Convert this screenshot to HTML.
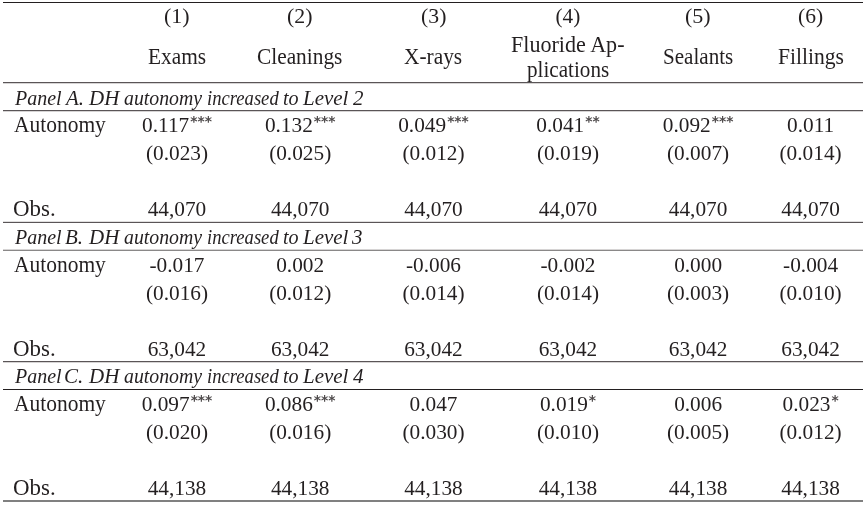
<!DOCTYPE html>
<html><head><meta charset="utf-8"><style>
html,body{margin:0;padding:0;background:#fff;}
body{width:867px;height:506px;position:relative;overflow:hidden;}
.t{position:absolute;white-space:nowrap;font-family:"Liberation Serif",serif;color:#231f20;}
.l{position:absolute;left:3px;width:860px;}
.s{font-family:"DejaVu Sans",sans-serif;font-weight:bold;font-size:13.8px;position:relative;top:-5.6px;letter-spacing:0px;margin-left:1px;color:#4d494a;}
</style></head><body>
<div class="l" style="top:2px;height:1px;background:#231f20"></div>
<div class="l" style="top:82px;height:1px;background:#5a5557"></div>
<div class="l" style="top:83px;height:1px;background:#d6d4d4"></div>
<div class="l" style="top:110px;height:1px;background:#5a5557"></div>
<div class="l" style="top:111px;height:1px;background:#d6d4d4"></div>
<div class="l" style="top:221px;height:1px;background:#e0dfdf"></div>
<div class="l" style="top:222px;height:1px;background:#5a5557"></div>
<div class="l" style="top:249px;height:1px;background:#d6d4d4"></div>
<div class="l" style="top:250px;height:1px;background:#8a8888"></div>
<div class="l" style="top:361px;height:1px;background:#5a5557"></div>
<div class="l" style="top:362px;height:1px;background:#d6d4d4"></div>
<div class="l" style="top:389px;height:1px;background:#231f20"></div>
<div class="l" style="top:500px;height:2px;background:#808080"></div>
<div class="t" style="top:6px;font-size:21.3px;line-height:21.3px;left:164.07px;transform-origin:0 17px;transform:scale(1.0304,0.97);">(1)</div>
<div class="t" style="top:6px;font-size:21.3px;line-height:21.3px;left:287.37px;transform-origin:0 17px;transform:scale(1.0261,0.97);">(2)</div>
<div class="t" style="top:6px;font-size:21.3px;line-height:21.3px;left:420.88px;transform-origin:0 17px;transform:scale(1.0217,0.97);">(3)</div>
<div class="t" style="top:6px;font-size:21.3px;line-height:21.3px;left:555.50px;transform-origin:0 17px;transform:scale(1.0000,0.97);">(4)</div>
<div class="t" style="top:6px;font-size:21.3px;line-height:21.3px;left:685.27px;transform-origin:0 17px;transform:scale(1.0348,0.97);">(5)</div>
<div class="t" style="top:6px;font-size:21.3px;line-height:21.3px;left:797.89px;transform-origin:0 17px;transform:scale(1.0130,0.97);">(6)</div>
<div class="t" style="top:47px;font-size:21.3px;line-height:21.3px;left:147.90px;transform-origin:0 17px;transform:scale(1.0018,1.05);">Exams</div>
<div class="t" style="top:47px;font-size:21.3px;line-height:21.3px;left:257.10px;transform-origin:0 17px;transform:scale(1.0024,1.05);">Cleanings</div>
<div class="t" style="top:47px;font-size:21.3px;line-height:21.3px;left:404.30px;transform-origin:0 17px;transform:scale(1.0036,1.05);">X-rays</div>
<div class="t" style="top:35px;font-size:21.3px;line-height:21.3px;left:510.86px;transform-origin:0 17px;transform:scale(1.0370,1.05);">Fluoride Ap-</div>
<div class="t" style="top:60px;font-size:21.3px;line-height:21.3px;left:527.01px;transform-origin:0 17px;transform:scale(0.9926,1.05);">plications</div>
<div class="t" style="top:47px;font-size:21.3px;line-height:21.3px;left:662.81px;transform-origin:0 17px;transform:scale(0.9899,1.05);">Sealants</div>
<div class="t" style="top:47px;font-size:21.3px;line-height:21.3px;left:777.89px;transform-origin:0 17px;transform:scale(1.0127,1.05);">Fillings</div>
<div class="t" style="top:89px;font-size:19.8px;line-height:19.8px;font-style:italic;left:14.50px;transform-origin:0 16px;transform:scale(1.0087,1.05);">Panel</div>
<div class="t" style="top:89px;font-size:19.8px;line-height:19.8px;font-style:italic;left:65.93px;transform-origin:0 16px;transform:scale(1.0600,1.05);">A.</div>
<div class="t" style="top:89px;font-size:19.8px;line-height:19.8px;font-style:italic;left:88.73px;transform-origin:0 16px;transform:scale(1.0600,1.05);">DH</div>
<div class="t" style="top:89px;font-size:19.8px;line-height:19.8px;font-style:italic;left:124.00px;transform-origin:0 16px;transform:scale(1.0013,1.05);">autonomy</div>
<div class="t" style="top:89px;font-size:19.8px;line-height:19.8px;font-style:italic;left:207.46px;transform-origin:0 16px;transform:scale(0.9413,1.05);">increased</div>
<div class="t" style="top:89px;font-size:19.8px;line-height:19.8px;font-style:italic;left:282.59px;transform-origin:0 16px;transform:scale(1.0143,1.05);">to</div>
<div class="t" style="top:89px;font-size:19.8px;line-height:19.8px;font-style:italic;left:303.39px;transform-origin:0 16px;transform:scale(1.0600,1.05);">Level</div>
<div class="t" style="top:89px;font-size:19.8px;line-height:19.8px;font-style:italic;left:352.58px;transform-origin:0 16px;transform:scale(1.0600,1.05);">2</div>
<div class="t" style="top:115px;font-size:21.3px;line-height:21.3px;left:13.60px;transform-origin:0 17px;transform:scale(1.0077,1.05);">Autonomy</div>
<div class="t" style="top:199px;font-size:21.3px;line-height:21.3px;left:13.22px;transform-origin:0 17px;transform:scale(1.0757,1.05);">Obs.</div>
<div class="t" style="top:115px;font-size:21.3px;line-height:21.3px;left:27.00px;width:300px;text-align:center;transform-origin:50% 17px;transform:scaleY(1.0);">0.117<span class="s">***</span></div>
<div class="t" style="top:143px;font-size:21.3px;line-height:21.3px;left:27.00px;width:300px;text-align:center;transform-origin:50% 17px;transform:scaleY(1.0);">(0.023)</div>
<div class="t" style="top:199px;font-size:21.3px;line-height:21.3px;left:27.00px;width:300px;text-align:center;transform-origin:50% 17px;transform:scaleY(1.0);">44,070</div>
<div class="t" style="top:115px;font-size:21.3px;line-height:21.3px;left:150.20px;width:300px;text-align:center;transform-origin:50% 17px;transform:scaleY(1.0);">0.132<span class="s">***</span></div>
<div class="t" style="top:143px;font-size:21.3px;line-height:21.3px;left:150.20px;width:300px;text-align:center;transform-origin:50% 17px;transform:scaleY(1.0);">(0.025)</div>
<div class="t" style="top:199px;font-size:21.3px;line-height:21.3px;left:150.20px;width:300px;text-align:center;transform-origin:50% 17px;transform:scaleY(1.0);">44,070</div>
<div class="t" style="top:115px;font-size:21.3px;line-height:21.3px;left:283.50px;width:300px;text-align:center;transform-origin:50% 17px;transform:scaleY(1.0);">0.049<span class="s">***</span></div>
<div class="t" style="top:143px;font-size:21.3px;line-height:21.3px;left:283.50px;width:300px;text-align:center;transform-origin:50% 17px;transform:scaleY(1.0);">(0.012)</div>
<div class="t" style="top:199px;font-size:21.3px;line-height:21.3px;left:283.50px;width:300px;text-align:center;transform-origin:50% 17px;transform:scaleY(1.0);">44,070</div>
<div class="t" style="top:115px;font-size:21.3px;line-height:21.3px;left:418.00px;width:300px;text-align:center;transform-origin:50% 17px;transform:scaleY(1.0);">0.041<span class="s">**</span></div>
<div class="t" style="top:143px;font-size:21.3px;line-height:21.3px;left:418.00px;width:300px;text-align:center;transform-origin:50% 17px;transform:scaleY(1.0);">(0.019)</div>
<div class="t" style="top:199px;font-size:21.3px;line-height:21.3px;left:418.00px;width:300px;text-align:center;transform-origin:50% 17px;transform:scaleY(1.0);">44,070</div>
<div class="t" style="top:115px;font-size:21.3px;line-height:21.3px;left:548.10px;width:300px;text-align:center;transform-origin:50% 17px;transform:scaleY(1.0);">0.092<span class="s">***</span></div>
<div class="t" style="top:143px;font-size:21.3px;line-height:21.3px;left:548.10px;width:300px;text-align:center;transform-origin:50% 17px;transform:scaleY(1.0);">(0.007)</div>
<div class="t" style="top:199px;font-size:21.3px;line-height:21.3px;left:548.10px;width:300px;text-align:center;transform-origin:50% 17px;transform:scaleY(1.0);">44,070</div>
<div class="t" style="top:115px;font-size:21.3px;line-height:21.3px;left:660.60px;width:300px;text-align:center;transform-origin:50% 17px;transform:scaleY(1.0);">0.011</div>
<div class="t" style="top:143px;font-size:21.3px;line-height:21.3px;left:660.60px;width:300px;text-align:center;transform-origin:50% 17px;transform:scaleY(1.0);">(0.014)</div>
<div class="t" style="top:199px;font-size:21.3px;line-height:21.3px;left:660.60px;width:300px;text-align:center;transform-origin:50% 17px;transform:scaleY(1.0);">44,070</div>
<div class="t" style="top:228px;font-size:19.8px;line-height:19.8px;font-style:italic;left:14.50px;transform-origin:0 16px;transform:scale(1.0087,1.05);">Panel</div>
<div class="t" style="top:228px;font-size:19.8px;line-height:19.8px;font-style:italic;left:64.87px;transform-origin:0 16px;transform:scale(1.0600,1.05);">B.</div>
<div class="t" style="top:228px;font-size:19.8px;line-height:19.8px;font-style:italic;left:88.73px;transform-origin:0 16px;transform:scale(1.0600,1.05);">DH</div>
<div class="t" style="top:228px;font-size:19.8px;line-height:19.8px;font-style:italic;left:124.00px;transform-origin:0 16px;transform:scale(1.0013,1.05);">autonomy</div>
<div class="t" style="top:228px;font-size:19.8px;line-height:19.8px;font-style:italic;left:207.46px;transform-origin:0 16px;transform:scale(0.9413,1.05);">increased</div>
<div class="t" style="top:228px;font-size:19.8px;line-height:19.8px;font-style:italic;left:282.59px;transform-origin:0 16px;transform:scale(1.0143,1.05);">to</div>
<div class="t" style="top:228px;font-size:19.8px;line-height:19.8px;font-style:italic;left:303.39px;transform-origin:0 16px;transform:scale(1.0600,1.05);">Level</div>
<div class="t" style="top:228px;font-size:19.8px;line-height:19.8px;font-style:italic;left:352.43px;transform-origin:0 16px;transform:scale(1.0600,1.05);">3</div>
<div class="t" style="top:255px;font-size:21.3px;line-height:21.3px;left:13.60px;transform-origin:0 17px;transform:scale(1.0077,1.05);">Autonomy</div>
<div class="t" style="top:339px;font-size:21.3px;line-height:21.3px;left:13.22px;transform-origin:0 17px;transform:scale(1.0757,1.05);">Obs.</div>
<div class="t" style="top:255px;font-size:21.3px;line-height:21.3px;left:27.00px;width:300px;text-align:center;transform-origin:50% 17px;transform:scaleY(1.0);">-0.017</div>
<div class="t" style="top:283px;font-size:21.3px;line-height:21.3px;left:27.00px;width:300px;text-align:center;transform-origin:50% 17px;transform:scaleY(1.0);">(0.016)</div>
<div class="t" style="top:339px;font-size:21.3px;line-height:21.3px;left:27.00px;width:300px;text-align:center;transform-origin:50% 17px;transform:scaleY(1.0);">63,042</div>
<div class="t" style="top:255px;font-size:21.3px;line-height:21.3px;left:150.20px;width:300px;text-align:center;transform-origin:50% 17px;transform:scaleY(1.0);">0.002</div>
<div class="t" style="top:283px;font-size:21.3px;line-height:21.3px;left:150.20px;width:300px;text-align:center;transform-origin:50% 17px;transform:scaleY(1.0);">(0.012)</div>
<div class="t" style="top:339px;font-size:21.3px;line-height:21.3px;left:150.20px;width:300px;text-align:center;transform-origin:50% 17px;transform:scaleY(1.0);">63,042</div>
<div class="t" style="top:255px;font-size:21.3px;line-height:21.3px;left:283.50px;width:300px;text-align:center;transform-origin:50% 17px;transform:scaleY(1.0);">-0.006</div>
<div class="t" style="top:283px;font-size:21.3px;line-height:21.3px;left:283.50px;width:300px;text-align:center;transform-origin:50% 17px;transform:scaleY(1.0);">(0.014)</div>
<div class="t" style="top:339px;font-size:21.3px;line-height:21.3px;left:283.50px;width:300px;text-align:center;transform-origin:50% 17px;transform:scaleY(1.0);">63,042</div>
<div class="t" style="top:255px;font-size:21.3px;line-height:21.3px;left:418.00px;width:300px;text-align:center;transform-origin:50% 17px;transform:scaleY(1.0);">-0.002</div>
<div class="t" style="top:283px;font-size:21.3px;line-height:21.3px;left:418.00px;width:300px;text-align:center;transform-origin:50% 17px;transform:scaleY(1.0);">(0.014)</div>
<div class="t" style="top:339px;font-size:21.3px;line-height:21.3px;left:418.00px;width:300px;text-align:center;transform-origin:50% 17px;transform:scaleY(1.0);">63,042</div>
<div class="t" style="top:255px;font-size:21.3px;line-height:21.3px;left:548.10px;width:300px;text-align:center;transform-origin:50% 17px;transform:scaleY(1.0);">0.000</div>
<div class="t" style="top:283px;font-size:21.3px;line-height:21.3px;left:548.10px;width:300px;text-align:center;transform-origin:50% 17px;transform:scaleY(1.0);">(0.003)</div>
<div class="t" style="top:339px;font-size:21.3px;line-height:21.3px;left:548.10px;width:300px;text-align:center;transform-origin:50% 17px;transform:scaleY(1.0);">63,042</div>
<div class="t" style="top:255px;font-size:21.3px;line-height:21.3px;left:660.60px;width:300px;text-align:center;transform-origin:50% 17px;transform:scaleY(1.0);">-0.004</div>
<div class="t" style="top:283px;font-size:21.3px;line-height:21.3px;left:660.60px;width:300px;text-align:center;transform-origin:50% 17px;transform:scaleY(1.0);">(0.010)</div>
<div class="t" style="top:339px;font-size:21.3px;line-height:21.3px;left:660.60px;width:300px;text-align:center;transform-origin:50% 17px;transform:scaleY(1.0);">63,042</div>
<div class="t" style="top:367px;font-size:19.8px;line-height:19.8px;font-style:italic;left:14.50px;transform-origin:0 16px;transform:scale(1.0087,1.05);">Panel</div>
<div class="t" style="top:367px;font-size:19.8px;line-height:19.8px;font-style:italic;left:64.34px;transform-origin:0 16px;transform:scale(1.0600,1.05);">C.</div>
<div class="t" style="top:367px;font-size:19.8px;line-height:19.8px;font-style:italic;left:88.73px;transform-origin:0 16px;transform:scale(1.0600,1.05);">DH</div>
<div class="t" style="top:367px;font-size:19.8px;line-height:19.8px;font-style:italic;left:124.00px;transform-origin:0 16px;transform:scale(1.0013,1.05);">autonomy</div>
<div class="t" style="top:367px;font-size:19.8px;line-height:19.8px;font-style:italic;left:207.46px;transform-origin:0 16px;transform:scale(0.9413,1.05);">increased</div>
<div class="t" style="top:367px;font-size:19.8px;line-height:19.8px;font-style:italic;left:282.59px;transform-origin:0 16px;transform:scale(1.0143,1.05);">to</div>
<div class="t" style="top:367px;font-size:19.8px;line-height:19.8px;font-style:italic;left:303.39px;transform-origin:0 16px;transform:scale(1.0600,1.05);">Level</div>
<div class="t" style="top:367px;font-size:19.8px;line-height:19.8px;font-style:italic;left:353.48px;transform-origin:0 16px;transform:scale(1.0600,1.05);">4</div>
<div class="t" style="top:394px;font-size:21.3px;line-height:21.3px;left:13.60px;transform-origin:0 17px;transform:scale(1.0077,1.05);">Autonomy</div>
<div class="t" style="top:478px;font-size:21.3px;line-height:21.3px;left:13.22px;transform-origin:0 17px;transform:scale(1.0757,1.05);">Obs.</div>
<div class="t" style="top:394px;font-size:21.3px;line-height:21.3px;left:27.00px;width:300px;text-align:center;transform-origin:50% 17px;transform:scaleY(1.0);">0.097<span class="s">***</span></div>
<div class="t" style="top:422px;font-size:21.3px;line-height:21.3px;left:27.00px;width:300px;text-align:center;transform-origin:50% 17px;transform:scaleY(1.0);">(0.020)</div>
<div class="t" style="top:478px;font-size:21.3px;line-height:21.3px;left:27.00px;width:300px;text-align:center;transform-origin:50% 17px;transform:scaleY(1.0);">44,138</div>
<div class="t" style="top:394px;font-size:21.3px;line-height:21.3px;left:150.20px;width:300px;text-align:center;transform-origin:50% 17px;transform:scaleY(1.0);">0.086<span class="s">***</span></div>
<div class="t" style="top:422px;font-size:21.3px;line-height:21.3px;left:150.20px;width:300px;text-align:center;transform-origin:50% 17px;transform:scaleY(1.0);">(0.016)</div>
<div class="t" style="top:478px;font-size:21.3px;line-height:21.3px;left:150.20px;width:300px;text-align:center;transform-origin:50% 17px;transform:scaleY(1.0);">44,138</div>
<div class="t" style="top:394px;font-size:21.3px;line-height:21.3px;left:283.50px;width:300px;text-align:center;transform-origin:50% 17px;transform:scaleY(1.0);">0.047</div>
<div class="t" style="top:422px;font-size:21.3px;line-height:21.3px;left:283.50px;width:300px;text-align:center;transform-origin:50% 17px;transform:scaleY(1.0);">(0.030)</div>
<div class="t" style="top:478px;font-size:21.3px;line-height:21.3px;left:283.50px;width:300px;text-align:center;transform-origin:50% 17px;transform:scaleY(1.0);">44,138</div>
<div class="t" style="top:394px;font-size:21.3px;line-height:21.3px;left:418.00px;width:300px;text-align:center;transform-origin:50% 17px;transform:scaleY(1.0);">0.019<span class="s">*</span></div>
<div class="t" style="top:422px;font-size:21.3px;line-height:21.3px;left:418.00px;width:300px;text-align:center;transform-origin:50% 17px;transform:scaleY(1.0);">(0.010)</div>
<div class="t" style="top:478px;font-size:21.3px;line-height:21.3px;left:418.00px;width:300px;text-align:center;transform-origin:50% 17px;transform:scaleY(1.0);">44,138</div>
<div class="t" style="top:394px;font-size:21.3px;line-height:21.3px;left:548.10px;width:300px;text-align:center;transform-origin:50% 17px;transform:scaleY(1.0);">0.006</div>
<div class="t" style="top:422px;font-size:21.3px;line-height:21.3px;left:548.10px;width:300px;text-align:center;transform-origin:50% 17px;transform:scaleY(1.0);">(0.005)</div>
<div class="t" style="top:478px;font-size:21.3px;line-height:21.3px;left:548.10px;width:300px;text-align:center;transform-origin:50% 17px;transform:scaleY(1.0);">44,138</div>
<div class="t" style="top:394px;font-size:21.3px;line-height:21.3px;left:660.60px;width:300px;text-align:center;transform-origin:50% 17px;transform:scaleY(1.0);">0.023<span class="s">*</span></div>
<div class="t" style="top:422px;font-size:21.3px;line-height:21.3px;left:660.60px;width:300px;text-align:center;transform-origin:50% 17px;transform:scaleY(1.0);">(0.012)</div>
<div class="t" style="top:478px;font-size:21.3px;line-height:21.3px;left:660.60px;width:300px;text-align:center;transform-origin:50% 17px;transform:scaleY(1.0);">44,138</div>
</body></html>
